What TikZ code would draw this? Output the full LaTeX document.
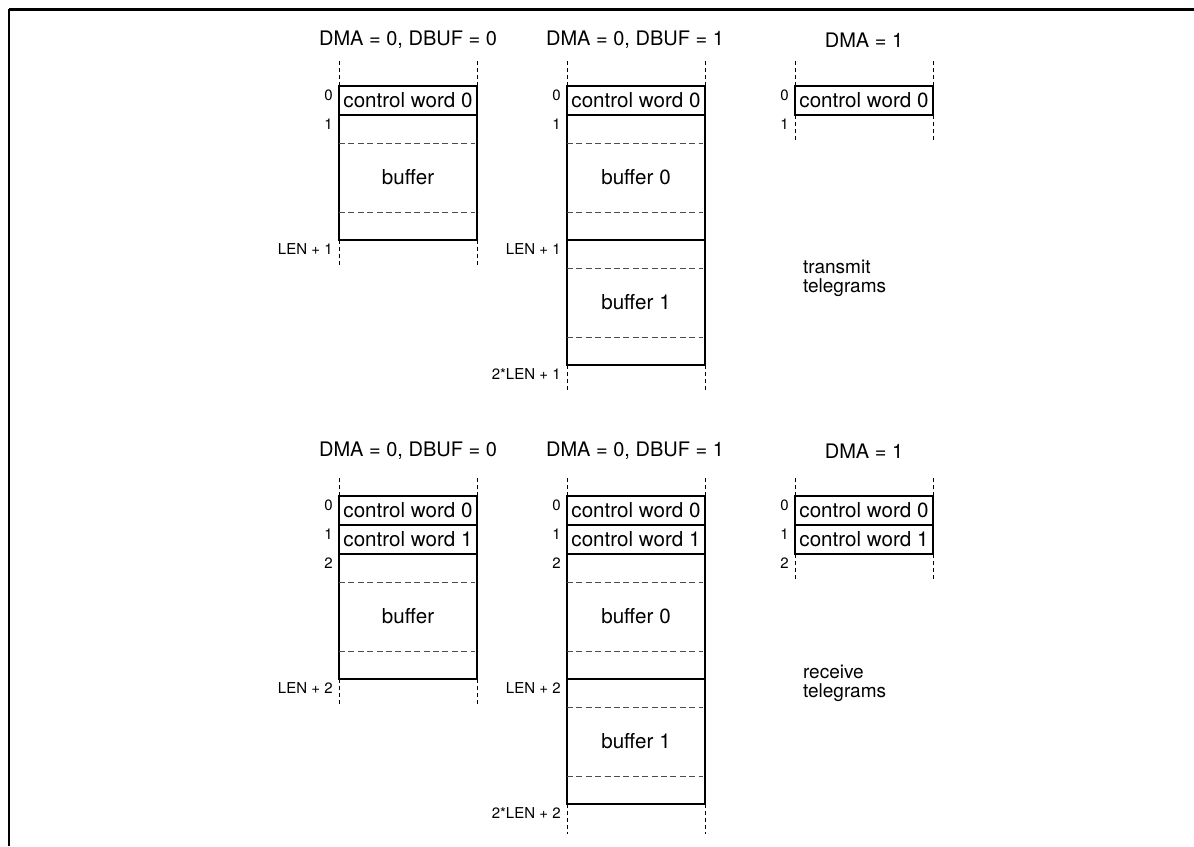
\documentclass[tikz,border=0pt]{standalone}
\usepackage{fontspec}
\setmainfont{TeX Gyre Heros}

\begin{document}
\begin{tikzpicture}[x=0.5pt,y=-0.5pt,
  word/.style={draw,line width=1.3pt,minimum width=69pt,minimum height=14.5pt,inner sep=0pt,outer sep=0pt,font=\fontsize{10.3}{12}\selectfont},
  buf/.style={word,minimum height=62.5pt},
  head/.style={font=\fontsize{10}{12}\selectfont},
  idx/.style={anchor=north east,inner sep=0pt,font=\fontsize{7.5}{9}\selectfont},
  guide/.style={dash pattern=on 2pt off 1.5pt,line width=0.5pt},
  sep/.style={dash pattern=on 3pt off 1.7pt,line width=0.5pt,black!70},
  note/.style={anchor=west,align=left,font=\fontsize{9.5}{9.5}\selectfont}]
\useasboundingbox (0,0) rectangle (1194,846);
\draw[line width=1.5pt] (9,9) -- (1194,9);
\draw[line width=1pt] (9,9) -- (9,846);
% transmit telegrams
\node[head] (th1) at (408,40) {DMA = 0, DBUF = 0};
\node[head] (th2) at (635,40) {DMA = 0, DBUF = 1};
\node[head] (th3) at (864,40) {DMA = 1};
\node[word] (ta0) at (408,100.5) {control word 0};
\node[buf] (tab) at (408,177.5) {buffer};
\node[word] (tb0) at (636,100.5) {control word 0};
\node[buf] (tbb0) at (636,177.5) {buffer 0};
\node[buf] (tbb1) at (636,302.5) {buffer 1};
\node[word] (tc0) at (864,100.5) {control word 0};
\draw[sep] ([shift={(0,28)}]tab.north west) -- ([shift={(-2,28)}]tab.north east);
\draw[sep] ([shift={(0,-28)}]tab.south west) -- ([shift={(-2,-28)}]tab.south east);
\draw[sep] ([shift={(0,28)}]tbb0.north west) -- ([shift={(-2,28)}]tbb0.north east);
\draw[sep] ([shift={(0,-28)}]tbb0.south west) -- ([shift={(-2,-28)}]tbb0.south east);
\draw[sep] ([shift={(0,28)}]tbb1.north west) -- ([shift={(-2,28)}]tbb1.north east);
\draw[sep] ([shift={(0,-28)}]tbb1.south west) -- ([shift={(-2,-28)}]tbb1.south east);
\draw[guide] (ta0.north west) -- ++(0,-28);
\draw[guide] (ta0.north east) -- ++(0,-28);
\draw[guide] (tab.south west) -- ++(0,27);
\draw[guide] (tab.south east) -- ++(0,27);
\draw[guide] (tb0.north west) -- ++(0,-28);
\draw[guide] (tb0.north east) -- ++(0,-28);
\draw[guide] (tbb1.south west) -- ++(0,27);
\draw[guide] (tbb1.south east) -- ++(0,27);
\draw[guide] (tc0.north west) -- ++(0,-28);
\draw[guide] (tc0.north east) -- ++(0,-28);
\draw[guide] (tc0.south west) -- ++(0,25);
\draw[guide] (tc0.south east) -- ++(0,25);
\node[idx] at ([shift={(-6,3)}]ta0.north west) {0};
\node[idx] at ([shift={(-6,3)}]tab.north west) {1};
\node[idx] at ([shift={(-6,3)}]tab.south west) {LEN + 1};
\node[idx] at ([shift={(-6,3)}]tb0.north west) {0};
\node[idx] at ([shift={(-6,3)}]tbb0.north west) {1};
\node[idx] at ([shift={(-6,3)}]tbb1.north west) {LEN + 1};
\node[idx] at ([shift={(-6,3)}]tbb1.south west) {2*LEN + 1};
\node[idx] at ([shift={(-6,3)}]tc0.north west) {0};
\node[idx] at ([shift={(-6,3)}]tc0.south west) {1};
\node[note] (tnote) at (796,278) {transmit\\telegrams};
% receive telegrams
\node[head] (rh1) at (408,451) {DMA = 0, DBUF = 0};
\node[head] (rh2) at (635,451) {DMA = 0, DBUF = 1};
\node[head] (rh3) at (864,451) {DMA = 1};
\node[word] (ra0) at (408,510.5) {control word 0};
\node[word] (ra1) at (408,539.5) {control word 1};
\node[buf] (rab) at (408,616.5) {buffer};
\node[word] (rb0) at (636,510.5) {control word 0};
\node[word] (rb1) at (636,539.5) {control word 1};
\node[buf] (rbb0) at (636,616.5) {buffer 0};
\node[buf] (rbb1) at (636,741.5) {buffer 1};
\node[word] (rc0) at (864,510.5) {control word 0};
\node[word] (rc1) at (864,539.5) {control word 1};
\draw[sep] ([shift={(0,28)}]rab.north west) -- ([shift={(-2,28)}]rab.north east);
\draw[sep] ([shift={(0,-28)}]rab.south west) -- ([shift={(-2,-28)}]rab.south east);
\draw[sep] ([shift={(0,28)}]rbb0.north west) -- ([shift={(-2,28)}]rbb0.north east);
\draw[sep] ([shift={(0,-28)}]rbb0.south west) -- ([shift={(-2,-28)}]rbb0.south east);
\draw[sep] ([shift={(0,28)}]rbb1.north west) -- ([shift={(-2,28)}]rbb1.north east);
\draw[sep] ([shift={(0,-28)}]rbb1.south west) -- ([shift={(-2,-28)}]rbb1.south east);
\draw[guide] (ra0.north west) -- ++(0,-19);
\draw[guide] (ra0.north east) -- ++(0,-19);
\draw[guide] (rab.south west) -- ++(0,28);
\draw[guide] (rab.south east) -- ++(0,28);
\draw[guide] (rb0.north west) -- ++(0,-19);
\draw[guide] (rb0.north east) -- ++(0,-19);
\draw[guide] (rbb1.south west) -- ++(0,30);
\draw[guide] (rbb1.south east) -- ++(0,30);
\draw[guide] (rc0.north west) -- ++(0,-19);
\draw[guide] (rc0.north east) -- ++(0,-19);
\draw[guide] (rc1.south west) -- ++(0,28);
\draw[guide] (rc1.south east) -- ++(0,28);
\node[idx] at ([shift={(-6,3)}]ra0.north west) {0};
\node[idx] at ([shift={(-6,3)}]ra1.north west) {1};
\node[idx] at ([shift={(-6,3)}]rab.north west) {2};
\node[idx] at ([shift={(-6,3)}]rab.south west) {LEN + 2};
\node[idx] at ([shift={(-6,3)}]rb0.north west) {0};
\node[idx] at ([shift={(-6,3)}]rb1.north west) {1};
\node[idx] at ([shift={(-6,3)}]rbb0.north west) {2};
\node[idx] at ([shift={(-6,3)}]rbb1.north west) {LEN + 2};
\node[idx] at ([shift={(-6,3)}]rbb1.south west) {2*LEN + 2};
\node[idx] at ([shift={(-6,3)}]rc0.north west) {0};
\node[idx] at ([shift={(-6,3)}]rc1.north west) {1};
\node[idx] at ([shift={(-6,3)}]rc1.south west) {2};
\node[note] (rnote) at (796,683) {receive\\telegrams};
\end{tikzpicture}
\end{document}
